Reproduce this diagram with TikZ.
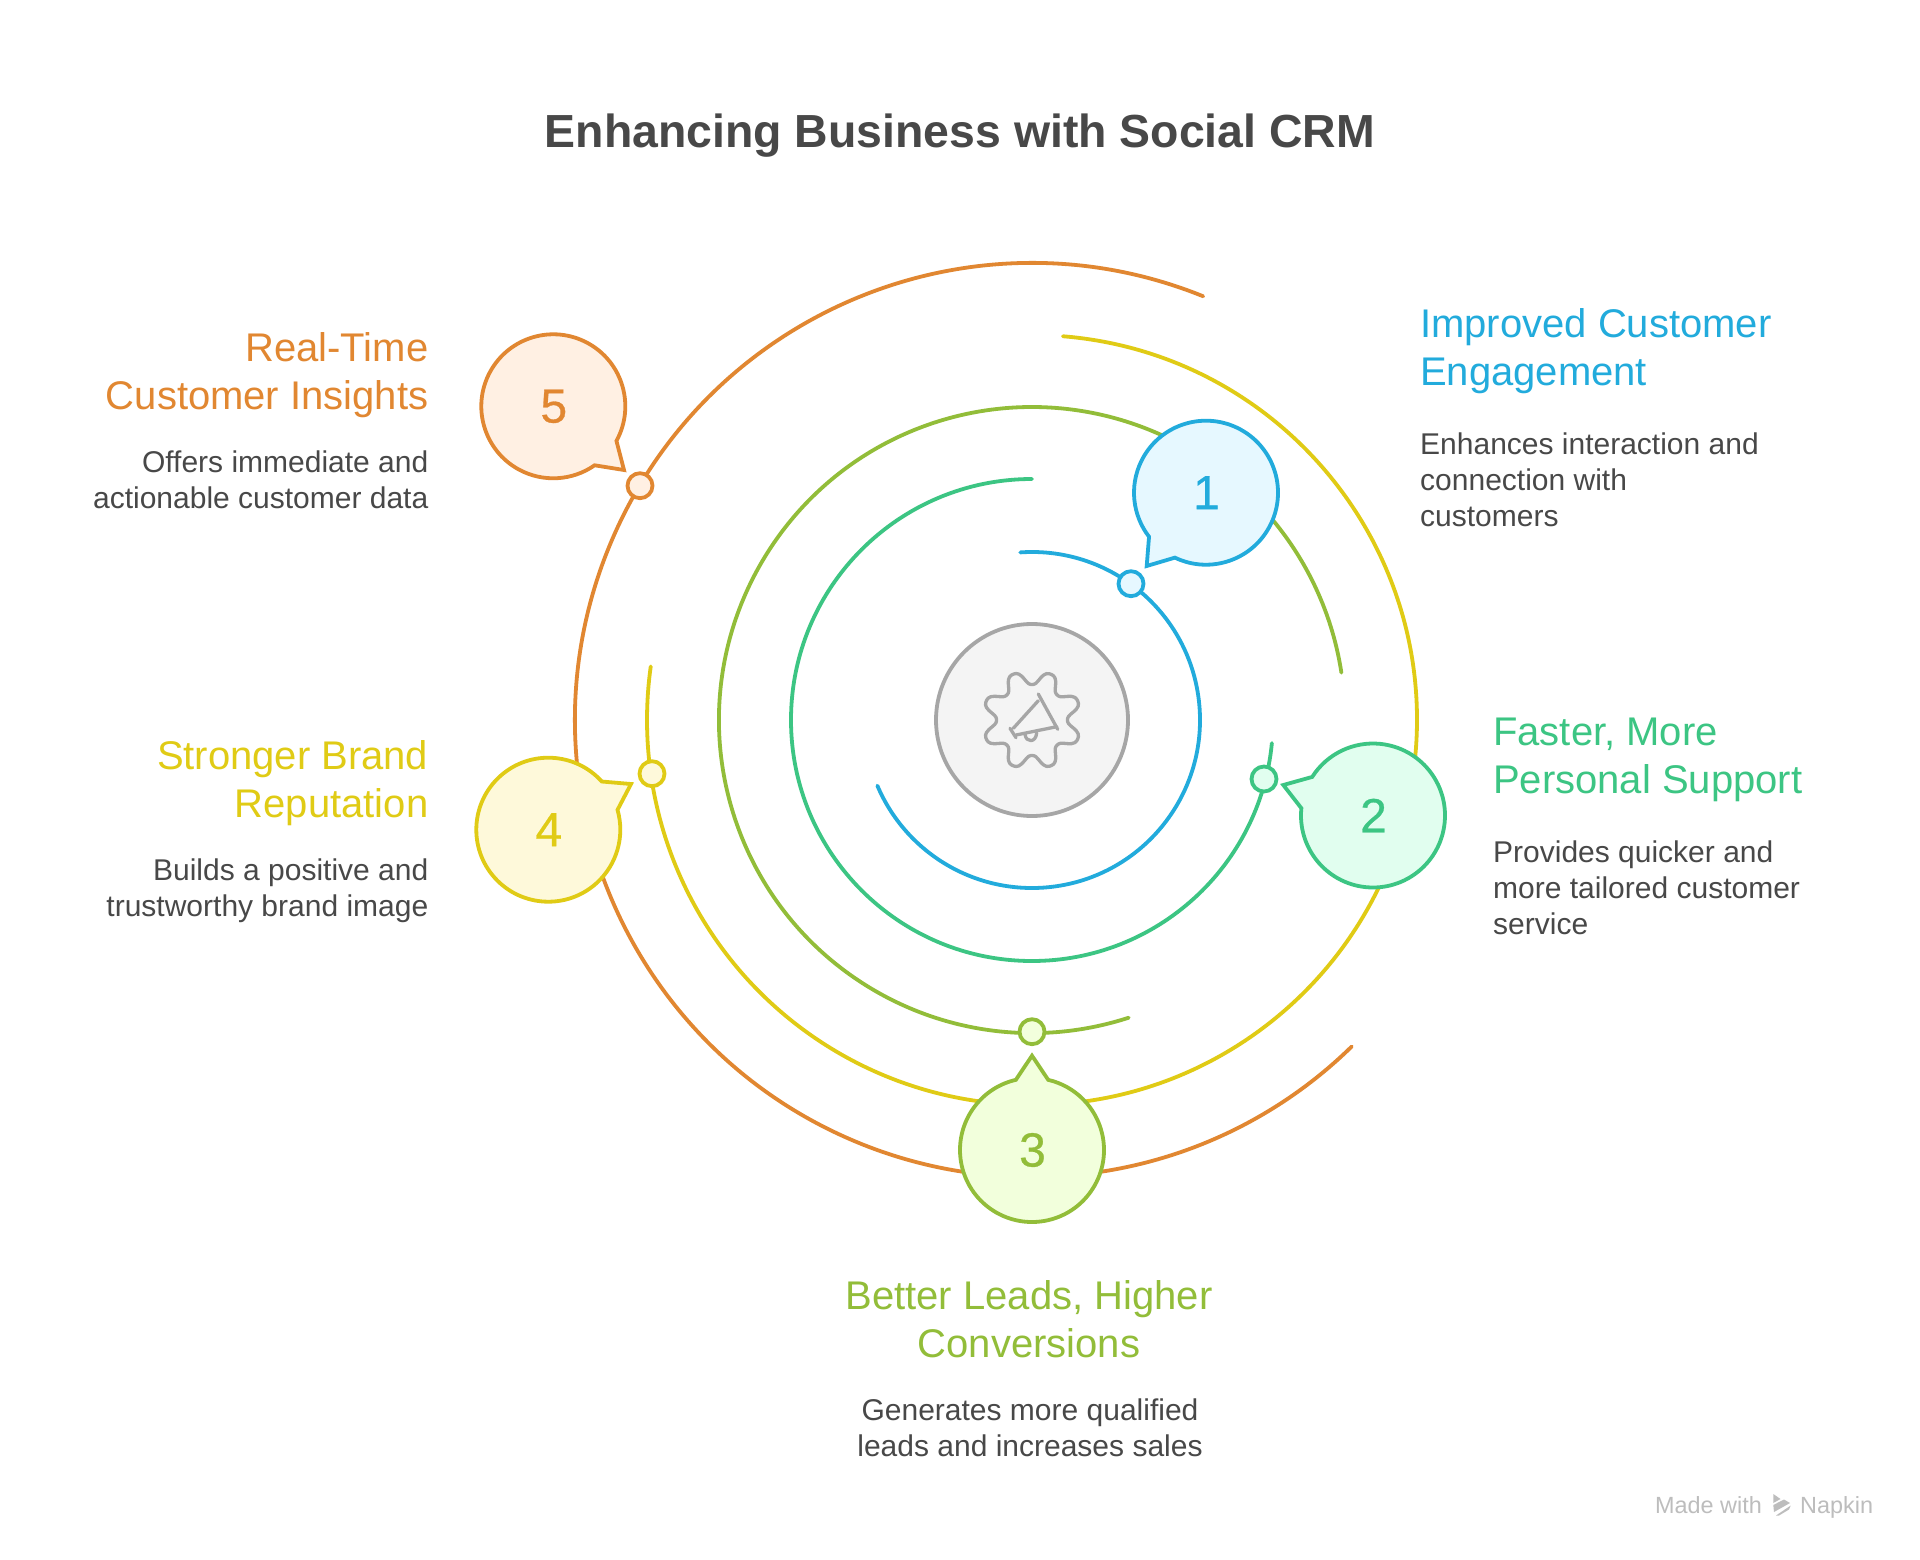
\documentclass[tikz,border=0pt]{standalone}
\usepackage{fontspec}
\setmainfont{Liberation Sans}
\usetikzlibrary{calc}
\definecolor{c1}{HTML}{22ABDC}\definecolor{f1}{HTML}{E6F8FF}
\definecolor{c2}{HTML}{3CC583}\definecolor{f2}{HTML}{E1FEEF}
\definecolor{c3}{HTML}{92BD39}\definecolor{f3}{HTML}{F2FFDC}
\definecolor{c4}{HTML}{E0CB15}\definecolor{f4}{HTML}{FEF9DA}
\definecolor{c5}{HTML}{E18731}\definecolor{f5}{HTML}{FFF0E3}
\definecolor{cg}{HTML}{A6A6A6}\definecolor{fg}{HTML}{F4F4F4}
\definecolor{ink}{HTML}{484848}\definecolor{markgray}{HTML}{BDBDBD}
\tikzset{
  ring/.style={line width=3.8pt,line cap=round},
  ringc/.style={ring,color=c#1},
  dot/.style={circle,draw=c#1,fill=f#1,line width=3.8pt,minimum size=25pt,inner sep=0pt},
  numtext/.style={text=c#1,font=\fontsize{48}{48}\selectfont\addfontfeatures{FakeBold=0.6},inner sep=0pt},
  head/.style={inner sep=0pt,text=c#1,font=\fontsize{40}{48}\selectfont},
  desc/.style={inner sep=0pt,text=ink,font=\fontsize{30}{36}\selectfont},
  titletext/.style={inner sep=0pt,text=ink,font=\fontsize{46.4}{56}\selectfont\bfseries},
  marktext/.style={inner sep=0pt,text=markgray,font=\fontsize{23.4}{24}\selectfont},
  icon/.style={draw=cg,line width=3.3pt,line cap=round,line join=round}
}
\newcommand{\speechbubble}[7]{%
  \coordinate (bc#1) at (#2,#3);
  \coordinate (tip#1) at (#6,#7);
  \draw[draw=c#1,fill=f#1,line width=3.8pt,line join=miter] ($(bc#1)+(#4:72)$) arc[start angle=#4,end angle=#5,radius=72] -- (tip#1) -- cycle;
  \node[numtext=#1] (num#1) at ($(bc#1)+(0.5,0)$) {#1};
}
\newcommand{\ringarc}[3]{\draw[ringc=#1] ($(C)+(#2:\csname rr#1\endcsname)$) arc[start angle=#2,end angle=#3,radius=\csname rr#1\endcsname];}
\expandafter\def\csname rr1\endcsname{168}
\expandafter\def\csname rr2\endcsname{241}
\expandafter\def\csname rr3\endcsname{313}
\expandafter\def\csname rr4\endcsname{385}
\expandafter\def\csname rr5\endcsname{457}
\begin{document}
\begin{tikzpicture}[x=1pt,y=1pt]
\useasboundingbox (0,0) rectangle (1920,-1560);
\fill[white] (0,0) rectangle (1920,-1560);
\coordinate (C) at (1032,-720);
\node[titletext,anchor=center] (title) at (960,-136) {Enhancing Business with Social CRM};
% rings
\ringarc{5}{68}{314.4}
\ringarc{4}{85.4}{-188}
\ringarc{3}{-72}{-351.3}
\ringarc{2}{90}{354.5}
\ringarc{1}{94}{-157}
% centre icon
\node[circle,draw=cg,fill=fg,line width=3.8pt,minimum size=192pt,inner sep=0pt] (hub) at (C) {};
\draw[icon,shift={(C)}] plot[smooth cycle,samples=129,domain=0:357.1875] (\x:{42.5+7.6*cos(8*(\x-22.5))-0.6*cos(24*(\x-22.5))});
\draw[icon] (1010,-728.3) -- (1016,-737.7);
\draw[icon] (1013.3,-728.3) -- (1038.3,-700.7);
\draw[icon] (1016,-735) -- (1056.7,-726.7);
\draw[icon] (1038.3,-694) -- (1057.7,-729.3);
\draw[icon] (1025,-734.3) .. controls (1026,-743) and (1036,-743) .. (1036.7,-732.7);
% small dots
\node[dot=1] (d1) at (1131,-583.7) {};
\node[dot=2] (d2) at (1264,-779) {};
\node[dot=3] (d3) at (1032,-1031.7) {};
\node[dot=4] (d4) at (652,-773.7) {};
\node[dot=5] (d5) at (640,-485.7) {};
% bubbles
\speechbubble{1}{1206}{-492.7}{244.4}{577.7}{1146.7}{-566}
\speechbubble{2}{1373}{-815.5}{174.2}{507.6}{1283.3}{-785}
\speechbubble{3}{1032}{-1150}{103}{437}{1032}{-1055.7}
\speechbubble{4}{548.3}{-829.7}{42}{376}{631}{-784}
\speechbubble{5}{553.3}{-406.3}{-28.7}{305}{624}{-470}
% labels
\node[head=1,anchor=north west,align=left] (h1) at (1420,-308) {Improved Customer\\Engagement};
\node[desc,anchor=north west,align=left] (t1) at (1420,-433) {Enhances interaction and\\connection with\\customers};
\node[head=2,anchor=north west,align=left] (h2) at (1493,-718) {Faster, More\\Personal Support};
\node[desc,anchor=north west,align=left] (t2) at (1493,-841) {Provides quicker and\\more tailored customer\\service};
\node[head=3,anchor=north,align=center] (h3) at (1029,-1280) {Better Leads, Higher\\Conversions};
\node[desc,anchor=north,align=center] (t3) at (1030,-1399) {Generates more qualified\\leads and increases sales};
\node[head=4,anchor=north east,align=right] (h4) at (428.5,-740) {Stronger Brand\\Reputation};
\node[desc,anchor=north east,align=right] (t4) at (428.5,-859) {Builds a positive and\\trustworthy brand image};
\node[head=5,anchor=north east,align=right] (h5) at (428.5,-332) {Real-Time\\Customer Insights};
\node[desc,anchor=north east,align=right] (t5) at (428.5,-451) {Offers immediate and\\actionable customer data};
% watermark
\node[marktext,anchor=base west] (mw) at (1655,-1513) {Made with};
\node[marktext,anchor=base west] (mn) at (1800,-1513) {Napkin};
\fill[markgray] (1773.3,-1494) -- (1780.5,-1499) -- (1773.3,-1503) -- cycle;
\fill[markgray] (1773.3,-1505) -- (1784,-1499.5) -- (1790,-1503) -- (1774,-1512) -- cycle;
\fill[markgray] (1776,-1515.5) -- (1790.7,-1505.5) -- (1789,-1509.5) -- (1779,-1515.5) -- cycle;
\end{tikzpicture}
\end{document}
